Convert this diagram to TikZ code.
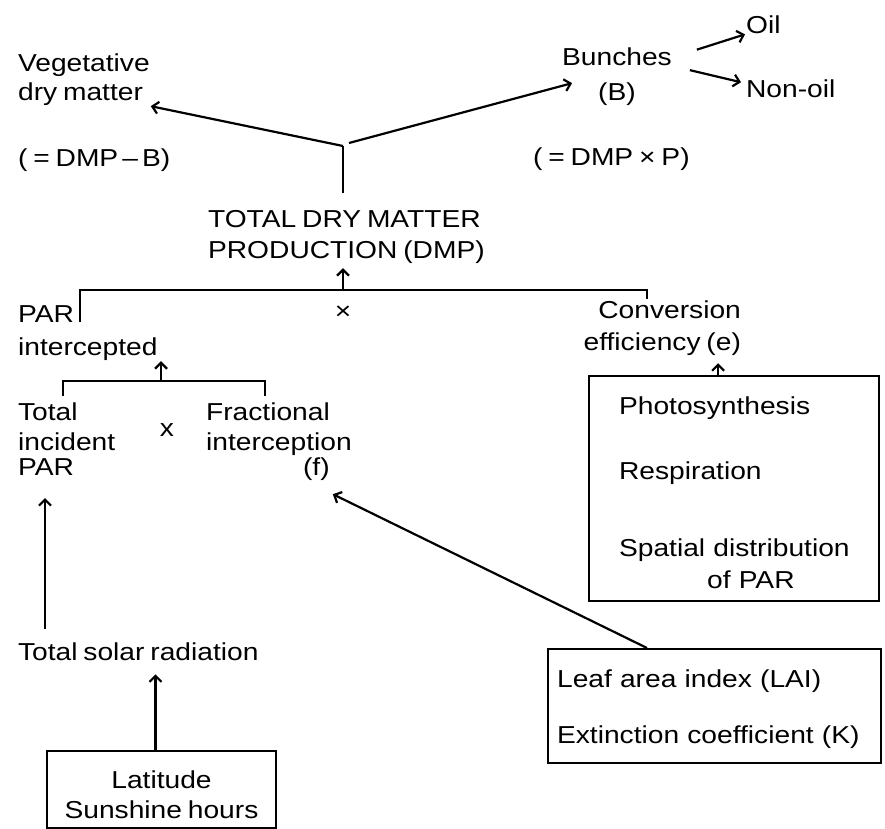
\documentclass[tikz,border=0pt]{standalone}
\usepackage{fontspec}
\setmainfont{Liberation Sans}[FakeStretch=1.15, WordSpace=0.75]
\usetikzlibrary{arrows.meta}

\begin{document}
\begin{tikzpicture}[x=1pt, y=-1pt, line width=2.2pt,
    >={Straight Barb[length=6pt,width=12pt]},
    font=\fontsize{24.5}{30}\selectfont,
    txt/.style = {inner sep=0pt, align=left, anchor=base west},
    mid/.style = {inner sep=0pt, align=center, anchor=base},
    box/.style = {draw, line width=2.2pt}]
    \useasboundingbox (0,0) rectangle (885,828);

    \node[txt] (veg) at (17,100) {Vegetative\\[-1pt]dry matter};
    \node[txt] (vegeq) at (17,166) {( = DMP\,–\,B)};
    \node[mid] (bunch) at (617,100) {Bunches\\[5pt](B)};
    \node[txt] (oil) at (745,33) {Oil};
    \node[txt] (nonoil) at (745,97) {Non-oil};
    \node[txt] (bunchq) at (532,165) {( = DMP × P)};
    \node[txt] (dmp) at (207,258) {TOTAL DRY MATTER\\[1pt]PRODUCTION (DMP)};
    \node[txt] (par) at (17,355) {PAR\\[3pt]intercepted};
    \node[inner sep=0pt] (times) at (343,313) {×};
    \node[txt, align=right, anchor=base east] (conv) at (742,350) {Conversion\\[2pt]efficiency (e)};
    \node[txt] (incid) at (17,475) {Total\\incident\\[-5pt]PAR};
    \node[mid] (x) at (167,436) {x};
    \node[txt] (frac) at (205,475) {Fractional\\interception\\[-5pt]\hspace*{97pt}(f)};
    \node[txt] (solar) at (17,660) {Total solar radiation};
    \node[box, align=center, minimum width=229pt, inner xsep=0pt, inner ysep=10pt, anchor=north] (lat) at (161.5,750)
        {\rule{0pt}{27pt}Latitude\\Sunshine hours};
    \node[box, align=left, text width=230pt, inner xsep=30pt, inner ysep=13pt, anchor=north west] (phot) at (588,375)
        {\rule{0pt}{25pt}Photosynthesis\\[35pt]Respiration\\[47pt]\mbox{Spatial distribution}\\[2pt]\hspace*{88pt}of PAR};
    \node[box, align=left, text width=315pt, inner xsep=9pt, inner ysep=13.8pt, anchor=north west] (lai) at (547,648)
        {\rule{0pt}{25pt}Leaf area index (LAI)\\[26pt]Extinction coefficient (K)};

    \coordinate (split) at (343,146);
    \coordinate (upL) at (80,290);
    \coordinate (upM) at (343,290);
    \coordinate (upR) at (647,290);
    \coordinate (loL) at (63,381);
    \coordinate (loM) at (161,381);
    \coordinate (loR) at (265,381);

    \draw[shorten <=16pt] (dmp.north -| split) -- (split);
    \draw[->] (split) -- (veg.south east);
    \draw[->] ([xshift=6pt,yshift=3pt]split) -- ([xshift=11pt,yshift=-7pt]bunch.west);
    \draw[->] ([xshift=24pt,yshift=-3.5pt]bunch.north east) -- (oil.south west);
    \draw[->] ([xshift=17pt,yshift=6pt]bunch.east) -- ([xshift=-4pt,yshift=6pt]nonoil.west);
    \draw ([yshift=-18pt]upL |- par.north) -- (upL) -- (upR) -- (upR |- conv.north);
    \draw[->, shorten >=4pt] (upM) -- (upM |- dmp.south);
    \draw[shorten <=5pt, shorten >=5pt] (loL |- incid.north) -- (loL) -- (loR) -- (loR |- frac.north);
    \draw[->] (loM) -- (loM |- par.south);
    \draw[->, shorten <=12pt, shorten >=22pt] ([xshift=28pt]solar.north west) -- ([xshift=28pt]incid.south west);
    \draw[->, shorten >=13pt] ([xshift=-6pt]lat.north) -- ([xshift=-6pt]lat.north |- solar.south);
    \draw[->] ([xshift=100pt]lai.north west) -- ([xshift=-20pt,yshift=-13pt]frac.south east);
    \draw[->, shorten >=7pt] ([xshift=-16pt]phot.north) -- ([xshift=-16pt]phot.north |- conv.south);
\end{tikzpicture}
\end{document}
